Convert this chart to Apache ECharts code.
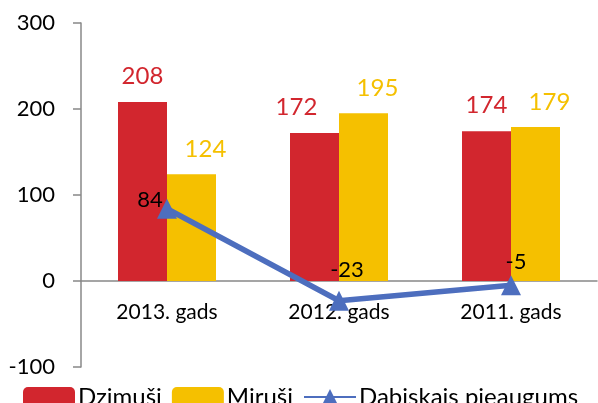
<!DOCTYPE html>
<html>
<head>
<meta charset="utf-8">
<script src="https://cdn.jsdelivr.net/npm/echarts@6/dist/echarts.min.js"></script>
<style>
  html, body { margin: 0; padding: 0; background: #fff; }
  #chart { width: 598px; height: 403px; }
</style>
</head>
<body>
<div id="chart"></div>
<script>
// dati
var categories = ['2013. gads', '2012. gads', '2011. gads']
var dzimusi = [208, 172, 174]
var mirusi = [124, 195, 179]
var pieaugums = [84, -23, -5]

var FONT = 'Lato'
var RED = '#D2262E'
var YELLOW = '#F5C000'
var BLUE = '#4D6EBE'
var AXIS = '#888888'

// label offsets (Excel labels were moved by hand)
var lineOffsets = [[-17, 17], [8, -5], [5, 3]]
var redOffsets = [[0, 0], [-18, 0], [0, 0]]

var chart = echarts.init(document.getElementById('chart'))
var option = {
  backgroundColor: '#fff',
  animation: false,
  grid: { left: 81, right: 1, top: 23, bottom: 36, containLabel: false },
  legend: {
    left: 18,
    top: 380,
    itemWidth: 52,
    itemHeight: 20,
    itemGap: 10,
    textStyle: { fontFamily: FONT, fontSize: 24, color: '#000', padding: [0, 0, 0, -2] },
    data: ['Dzimuši', 'Miruši', 'Dabiskais pieaugums']
  },
  xAxis: {
    type: 'category',
    data: categories,
    offset: -86, // x axis sits on the zero line
    axisLine: { onZero: false, lineStyle: { color: AXIS, width: 1.5 } },
    axisTick: { length: 8, lineStyle: { color: AXIS, width: 1.5 } },
    axisLabel: { color: '#000', fontFamily: FONT, fontSize: 21, margin: 21 }
  },
  yAxis: {
    type: 'value',
    min: -100,
    max: 300,
    interval: 100,
    splitLine: { show: false },
    axisLine: { show: true, lineStyle: { color: AXIS, width: 1.5 } },
    axisTick: { show: true, length: 8, lineStyle: { color: AXIS, width: 1.5 } },
    axisLabel: { color: '#000', fontFamily: FONT, fontSize: 22, margin: 26 }
  },
  series: [
    {
      name: 'Dzimuši',
      type: 'bar',
      data: dzimusi.map(function (v, i) {
        return { value: v, label: { offset: redOffsets[i] } }
      }),
      barWidth: 49,
      barGap: '0%',
      itemStyle: { color: RED },
      label: { show: true, position: 'top', distance: 14, color: RED, fontFamily: FONT, fontSize: 24 }
    },
    {
      name: 'Miruši',
      type: 'bar',
      data: mirusi,
      barWidth: 49,
      barGap: '0%',
      itemStyle: { color: YELLOW },
      label: { show: true, position: 'top', distance: 13, offset: [14, 0], color: YELLOW, fontFamily: FONT, fontSize: 24 }
    },
    {
      name: 'Dabiskais pieaugums',
      type: 'line',
      data: pieaugums.map(function (v, i) {
        return { value: v, label: { offset: lineOffsets[i] } }
      }),
      symbol: 'triangle',
      symbolSize: 20,
      lineStyle: { color: BLUE, width: 5.5 },
      itemStyle: { color: BLUE },
      label: { show: true, position: 'top', distance: 5, color: '#000', fontFamily: FONT, fontSize: 22 },
      z: 5
    }
  ]
}
chart.setOption(option)
</script>
</body>
</html>
